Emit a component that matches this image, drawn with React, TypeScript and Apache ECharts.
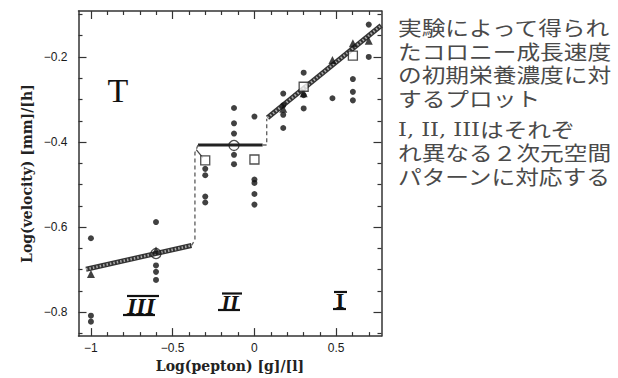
import React, { useEffect, useRef } from 'react';
import * as echarts from 'echarts';

// Axis ticks / labels
const xMajor = [-1, -0.5, 0, 0.5];
const xMinor = [-0.9, -0.8, -0.7, -0.6, -0.4, -0.3, -0.2, -0.1, 0.1, 0.2, 0.3, 0.4, 0.6, 0.7];
const yMajor = [-0.8, -0.6, -0.4, -0.2];
const yMinor = [-0.85, -0.75, -0.7, -0.65, -0.55, -0.5, -0.45, -0.35, -0.3, -0.25, -0.15, -0.1];

// Measurements: [log(pepton), log(velocity)]
const dots: number[][] = [
  [-1, -0.626], [-1, -0.808], [-1, -0.822],
  [-0.602, -0.588], [-0.602, -0.69], [-0.602, -0.705], [-0.602, -0.724],
  [-0.301, -0.463], [-0.301, -0.478], [-0.301, -0.528], [-0.301, -0.542],
  [-0.125, -0.32], [-0.125, -0.356], [-0.125, -0.38], [-0.125, -0.43], [-0.125, -0.452],
  [0, -0.34], [0, -0.488], [0, -0.496], [0, -0.522], [0, -0.547],
  [0.176, -0.286], [0.176, -0.314], [0.176, -0.336], [0.176, -0.367],
  [0.301, -0.237], [0.301, -0.29], [0.301, -0.321],
  [0.477, -0.297],
  [0.602, -0.252], [0.602, -0.282], [0.602, -0.302],
  [0.699, -0.124], [0.699, -0.2],
];
const openSquares: number[][] = [
  [-0.301, -0.443], [0, -0.441], [0.301, -0.27], [0.602, -0.197],
];
const openCircles: number[][] = [
  [-0.602, -0.662], [-0.125, -0.408],
];
const triangles: number[][] = [
  [-1, -0.71], [-0.602, -0.655], [0.176, -0.322], [0.301, -0.285],
  [0.477, -0.207], [0.602, -0.168], [0.699, -0.162],
];

// Fitted segments for the three pattern regions
const fitIII: number[][] = [[-1.03, -0.699], [-0.385, -0.643]];
const fitII: number[][] = [[-0.345, -0.407], [0.05, -0.407]];
const fitI: number[][] = [[0.08, -0.343], [0.775, -0.126]];
const connectorA: number[][] = [[-0.385, -0.643], [-0.364, -0.63], [-0.364, -0.425], [-0.345, -0.407]];
const connectorB: number[][] = [[0.05, -0.407], [0.075, -0.407], [0.075, -0.345]];
const kinkStroke: number[][] = [[-0.356, -0.418], [-0.315, -0.437]];

const textBlock1 = ['実験によって得られ', 'たコロニー成長速度', 'の初期栄養濃度に対', 'するプロット'];
const textBlock2 = ['{r|I, II, III}はそれぞ', 'れ異なる２次元空間', 'パターンに対応する'];

const X_MIN = -1.076, X_MAX = 0.777, Y_MIN = -0.856, Y_MAX = -0.092;
const fmt = (v: number) => String(v).replace('-', '−');
const AX = '#333';
const nameStyle = { fontFamily: 'DejaVu Serif', fontSize: 14, fontWeight: 'bold', color: '#222' };
const labelStyle = { fontFamily: 'Liberation Sans', fontSize: 12, color: '#1a1a1a' };

function xAxisDef(position: 'top' | 'bottom', ticks: number[], len: number, labels: boolean, line: boolean, name?: string) {
  return {
    type: 'value', position, min: X_MIN, max: X_MAX,
    name: name || '', nameLocation: 'middle', nameGap: 19,
    nameTextStyle: nameStyle,
    axisLine: { show: line, onZero: false, lineStyle: { color: AX, width: 1.5 } },
    axisTick: { show: true, inside: true, length: len, customValues: ticks, lineStyle: { color: AX, width: 1.2 } },
    axisLabel: labels
      ? { show: true, customValues: ticks, formatter: fmt, margin: 6, ...labelStyle }
      : { show: false },
    splitLine: { show: false },
  };
}
function yAxisDef(position: 'left' | 'right', ticks: number[], len: number, labels: boolean, line: boolean, name?: string) {
  return {
    type: 'value', position, min: Y_MIN, max: Y_MAX,
    name: name || '', nameLocation: 'middle', nameGap: 45,
    nameTextStyle: nameStyle,
    axisLine: { show: line, onZero: false, lineStyle: { color: AX, width: 1.5 } },
    axisTick: { show: true, inside: true, length: len, customValues: ticks, lineStyle: { color: AX, width: 1.2 } },
    axisLabel: labels
      ? { show: true, customValues: ticks, formatter: fmt, margin: 11, ...labelStyle }
      : { show: false },
    splitLine: { show: false },
  };
}

function hatched(data: number[][]) {
  return [
    { type: 'line', data, symbol: 'none', z: 2, lineStyle: { color: '#333', width: 5 } },
    { type: 'line', data, symbol: 'none', z: 3, lineStyle: { color: '#aaa', width: 2.5, type: [1.5, 2] } },
  ];
}

export default function App() {
  const ref = useRef<HTMLDivElement>(null);
  useEffect(() => {
    if (!ref.current) return;
    const chart = echarts.init(ref.current, null, { renderer: 'svg' });
    const serif = 'Liberation Serif';
    const jp = 'Noto Sans CJK JP';
    const bar = (x1: number, y1: number, x2: number, y2: number) => ({
      type: 'line', shape: { x1, y1, x2, y2 }, style: { stroke: '#111', lineWidth: 2.2 }, z: 10,
    });
    chart.setOption({
      animation: false,
      backgroundColor: '#fff',
      grid: { left: 78.5, right: 236.5, top: 11, bottom: 37, containLabel: false },
      xAxis: [
        xAxisDef('bottom', xMajor, 8, true, true, 'Log(pepton) [g]/[l]'),
        xAxisDef('bottom', xMinor, 4, false, false),
        xAxisDef('top', xMajor, 8, false, true),
        xAxisDef('top', xMinor, 4, false, false),
      ],
      yAxis: [
        yAxisDef('left', yMajor, 8, true, true, 'Log(velocity) [mm]/[h]'),
        yAxisDef('left', yMinor, 4, false, false),
        yAxisDef('right', yMajor, 8, false, true),
        yAxisDef('right', yMinor, 4, false, false),
      ],
      series: [
        ...hatched(fitIII),
        ...hatched(fitI),
        { type: 'line', data: fitII, symbol: 'none', z: 2, lineStyle: { color: '#222', width: 3 } },
        { type: 'line', data: connectorA, symbol: 'none', z: 2, lineStyle: { color: '#666', width: 1.4, type: [4, 3] } },
        { type: 'line', data: connectorB, symbol: 'none', z: 2, lineStyle: { color: '#666', width: 1.4, type: [4, 3] } },
        { type: 'line', data: kinkStroke, symbol: 'none', z: 2, lineStyle: { color: '#444', width: 1.2 } },
        { type: 'scatter', data: dots, symbol: 'circle', symbolSize: 6, z: 5, itemStyle: { color: '#111' } },
        { type: 'scatter', data: triangles, symbol: 'triangle', symbolSize: 8, z: 6, itemStyle: { color: '#111' } },
        { type: 'scatter', data: openSquares, symbol: 'rect', symbolSize: 9, z: 7,
          itemStyle: { color: '#fff', borderColor: '#222', borderWidth: 1.3 } },
        { type: 'scatter', data: openCircles, symbol: 'circle', symbolSize: 10, z: 7,
          itemStyle: { color: 'rgba(0,0,0,0)', borderColor: '#222', borderWidth: 1.3 } },
      ],
      graphic: [
        { type: 'text', x: 118, y: 90, z: 10, style: { text: 'T', fontFamily: serif, fontSize: 34, fill: '#111', align: 'center', verticalAlign: 'middle' } },
        { type: 'text', x: 141, y: 306, z: 10, style: { text: 'III', fontFamily: serif, fontStyle: 'italic', fontWeight: 'bold', fontSize: 24, fill: '#111', align: 'center', verticalAlign: 'middle' } },
        bar(127, 296, 159, 296), bar(123, 315, 155, 315),
        { type: 'text', x: 230, y: 302, z: 10, style: { text: 'II', fontFamily: serif, fontStyle: 'italic', fontWeight: 'bold', fontSize: 22, fill: '#111', align: 'center', verticalAlign: 'middle' } },
        bar(222, 293.5, 242, 293.5), bar(218, 310, 240, 310),
        { type: 'text', x: 340, y: 300.5, z: 10, style: { text: 'I', fontFamily: serif, fontWeight: 'bold', fontSize: 22, fill: '#111', align: 'center', verticalAlign: 'middle' } },
        bar(334, 292, 347, 292), bar(333, 309, 346, 309),
        { type: 'text', x: 398, y: 16, scaleX: 1.185, z: 10,
          style: { text: textBlock1.join('\n'), fontFamily: jp, fontSize: 20, lineHeight: 23.4, fill: '#4a4a4a', verticalAlign: 'top' } },
        { type: 'text', x: 398, y: 117.6, scaleX: 1.185, z: 10,
          style: { text: textBlock2.join('\n'), fontFamily: jp, fontSize: 20, lineHeight: 23.4, fill: '#4a4a4a', verticalAlign: 'top',
            rich: { r: { fontFamily: 'DejaVu Serif', fontSize: 19, lineHeight: 23.4, fill: '#4a4a4a' } } } },
      ],
    });
    return () => chart.dispose();
  }, []);
  return <div ref={ref} style={{ position: 'fixed', left: 0, top: 0, width: 618, height: 378, background: '#fff' }} />;
}
